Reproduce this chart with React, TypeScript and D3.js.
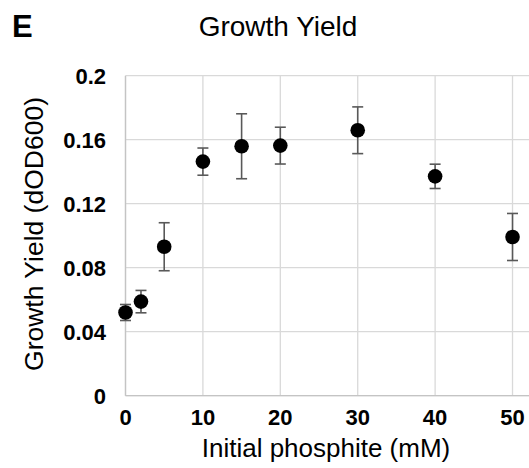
import React from "react";
import * as d3 from "d3";

// Growth yield vs initial phosphite, mean ± error
const phosphite = [0, 2, 5, 10, 15, 20, 30, 40, 50];
const yieldMean = [0.052, 0.0588, 0.0931, 0.1463, 0.1559, 0.1563, 0.1659, 0.1371, 0.0992];
const yieldErr = [0.005, 0.007, 0.015, 0.0085, 0.0203, 0.0115, 0.0146, 0.0076, 0.0147];
const xTicks = [0, 10, 20, 30, 40, 50];
const yTicks = [0, 0.04, 0.08, 0.12, 0.16, 0.2];

const W = 529;
const H = 468;
const font = "'Liberation Sans', Arial, Helvetica, sans-serif";

export default function App() {
  const x = d3.scaleLinear().domain([0, 52]).range([125.5, 528]);
  const y = d3.scaleLinear().domain([0, 0.2]).range([395.7, 75.7]);
  const fmt = (v: number) => (v === 0 ? "0" : String(+v.toFixed(2)));

  const points = phosphite.map((p, i) => ({ p, m: yieldMean[i], e: yieldErr[i] }));

  return (
    <svg
      width={W}
      height={H}
      style={{ position: "absolute", left: 0, top: 0, background: "#fff" }}
      fontFamily={font}
    >
      {/* grid */}
      {yTicks.map((t) => (
        <line key={"gy" + t} x1={x(0)} x2={W} y1={y(t)} y2={y(t)} stroke="#d9d9d9" strokeWidth={1.3} />
      ))}
      {xTicks.map((t) => (
        <line key={"gx" + t} x1={x(t)} x2={x(t)} y1={y(0.2)} y2={y(0)} stroke="#d9d9d9" strokeWidth={1.3} />
      ))}
      <line x1={x(0)} x2={x(0)} y1={y(0.2)} y2={y(0)} stroke="#c4c4c4" strokeWidth={1.3} />
      <line x1={x(0)} x2={W} y1={y(0)} y2={y(0)} stroke="#c4c4c4" strokeWidth={1.3} />

      {/* tick labels */}
      {yTicks.map((t) => (
        <text key={"ly" + t} x={106} y={y(t)} dy="0.36em" textAnchor="end" fontSize={22} fontWeight="bold">
          {fmt(t)}
        </text>
      ))}
      {xTicks.map((t) => (
        <text key={"lx" + t} x={x(t)} y={425} textAnchor="middle" fontSize={22} fontWeight="bold">
          {t}
        </text>
      ))}

      {/* error bars */}
      {points.map((d) => (
        <g key={"e" + d.p} stroke="#595959" strokeWidth={1.6}>
          <line x1={x(d.p)} x2={x(d.p)} y1={y(d.m - d.e)} y2={y(d.m + d.e)} />
          <line x1={x(d.p) - 5.5} x2={x(d.p) + 5.5} y1={y(d.m - d.e)} y2={y(d.m - d.e)} />
          <line x1={x(d.p) - 5.5} x2={x(d.p) + 5.5} y1={y(d.m + d.e)} y2={y(d.m + d.e)} />
        </g>
      ))}
      {/* points */}
      {points.map((d) => (
        <circle key={"c" + d.p} cx={x(d.p)} cy={y(d.m)} r={7.3} fill="#000" />
      ))}

      {/* titles */}
      <text x={12} y={37} fontSize={31} fontWeight="bold">E</text>
      <text x={278} y={36} textAnchor="middle" fontSize={28}>Growth Yield</text>
      <text x={326} y={457} textAnchor="middle" fontSize={26}>Initial phosphite (mM)</text>
      <text
        transform={`translate(43,234) rotate(-90)`}
        textAnchor="middle"
        fontSize={26.5}
      >
        Growth Yield (dOD600)
      </text>
    </svg>
  );
}
